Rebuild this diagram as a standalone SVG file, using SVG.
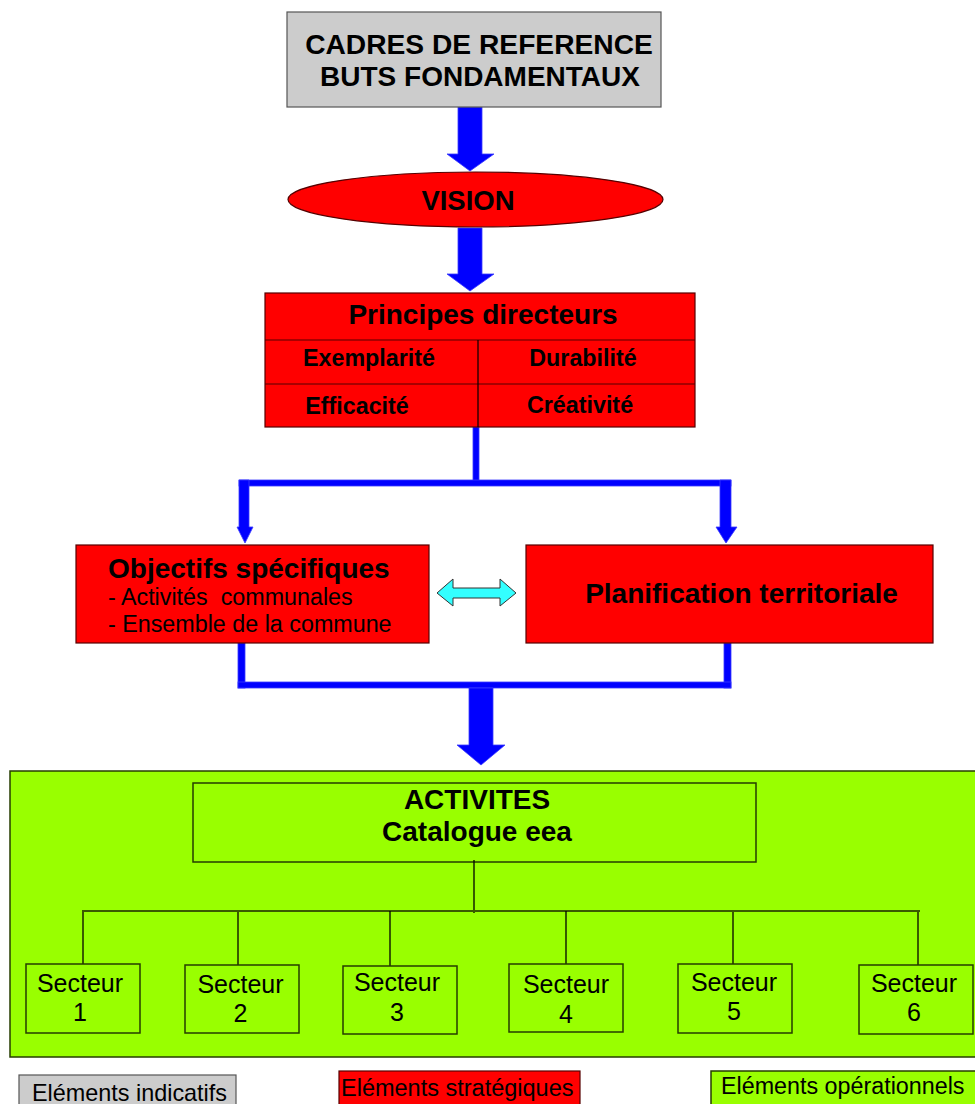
<svg xmlns="http://www.w3.org/2000/svg" width="975" height="1104" viewBox="0 0 975 1104">
<style>
text{font-family:"Liberation Sans",Arial,sans-serif;fill:#000}
.b{font-weight:bold}
.gray{fill:#cccccc;stroke:#555;stroke-width:1.2}
.red{fill:#ff0000;stroke:#500;stroke-width:1.2}
.green{fill:#99ff00;stroke:#263d00;stroke-width:1.5}
.blue{fill:#0000ff;stroke:#3a3aff;stroke-width:0.8}
.tree{stroke:#3a5a00;stroke-width:2;fill:none}
.stem{stroke:#000;stroke-width:1.3;fill:none}
.c{text-anchor:middle}
</style>

<g id="connectors">
  <polygon class="blue" points="458,107 482,107 482,154 494,154 470,171 447,154 458,154"/>
  <polygon class="blue" points="458,228 482,228 482,274 494,274 470,291 447,274 458,274"/>
  <rect class="blue" x="473" y="427" width="6" height="56" stroke="none"/>
  <rect class="blue" x="239" y="480" width="492" height="6" stroke="none"/>
  <polygon class="blue" points="239,480 249,480 249,527 253,527 245,543 237,527 239,527"/>
  <polygon class="blue" points="720,480 731,480 731,527 737,527 726,543 716,527 720,527"/>
  <rect class="blue" x="238" y="643" width="7" height="45" stroke="none"/>
  <rect class="blue" x="724" y="643" width="7" height="45" stroke="none"/>
  <rect class="blue" x="238" y="682" width="493" height="6" stroke="none"/>
  <polygon class="blue" points="469,688 493,688 493,745 505,745 481,765 457,745 469,745"/>
  <polygon fill="#33ffff" stroke="#333" stroke-width="1" points="437,593 453,579 453,588 500,588 500,579 516,593 500,606 500,598 453,598 453,606"/>
</g>

<g id="cadres">
  <rect class="gray" x="287" y="12" width="374" height="95"/>
  <text class="b c" x="479" y="54" font-size="28.2">CADRES DE REFERENCE</text>
  <text class="b c" x="480" y="86" font-size="28">BUTS FONDAMENTAUX</text>
</g>

<g id="vision">
  <ellipse class="red" cx="475.5" cy="199.5" rx="187.5" ry="27.5" stroke="#222"/>
  <text class="b c" x="468" y="210" font-size="27.5">VISION</text>
</g>

<g id="principes">
  <rect class="red" x="265" y="293" width="430" height="134"/>
  <line x1="265" y1="340" x2="695" y2="340" stroke="#500" stroke-width="1.2"/>
  <line x1="265" y1="384" x2="695" y2="384" stroke="#500" stroke-width="1.2"/>
  <line x1="478" y1="340" x2="478" y2="427" stroke="#000" stroke-width="1.2"/>
  <text class="b c" x="483" y="324" font-size="28">Principes directeurs</text>
  <text class="b c" x="369" y="366" font-size="23.3">Exemplarité</text>
  <text class="b c" x="583" y="366" font-size="23.3">Durabilité</text>
  <text class="b c" x="357" y="414" font-size="23.3">Efficacité</text>
  <text class="b c" x="580" y="413" font-size="23.3">Créativité</text>
</g>

<g id="objectifs">
  <rect class="red" x="76" y="545" width="353" height="98"/>
  <text class="b" x="108" y="578" font-size="28">Objectifs spécifiques</text>
  <text x="108" y="605" font-size="23.3" xml:space="preserve">- Activités  communales</text>
  <text x="108" y="632" font-size="23.3">- Ensemble de la commune</text>
</g>

<g id="planification">
  <rect class="red" x="526" y="545" width="407" height="98"/>
  <text class="b c" x="741.5" y="603" font-size="28">Planification territoriale</text>
</g>

<g id="operationnel">
  <rect class="green" x="10" y="771" width="970" height="286"/>
</g>

<g id="activites">
  <rect class="green" x="193" y="783" width="563" height="79" stroke="#333"/>
  <text class="b c" x="477" y="809" font-size="28">ACTIVITES</text>
  <text class="b c" x="477" y="841" font-size="28">Catalogue eea</text>
</g>

<g id="tree">
  <line class="stem" x1="474" y1="860" x2="474" y2="913"/>
  <line class="tree" x1="82" y1="911" x2="920" y2="911"/>
  <line class="tree" x1="83" y1="911" x2="83" y2="964" stroke-width="1.5"/>
  <line class="tree" x1="238" y1="911" x2="238" y2="965" stroke-width="1.5"/>
  <line class="stem" x1="390" y1="911" x2="390" y2="966"/>
  <line class="stem" x1="566" y1="911" x2="566" y2="964"/>
  <line class="tree" x1="733" y1="911" x2="733" y2="964" stroke-width="1.5"/>
  <line class="tree" x1="918" y1="911" x2="918" y2="965" stroke-width="1.5"/>
</g>

<g id="secteur1">
  <rect class="green" x="26" y="964" width="114" height="69" stroke="#1f3300"/>
  <text class="c" x="80" y="992" font-size="25">Secteur</text>
  <text class="c" x="80" y="1021" font-size="25">1</text>
</g>
<g id="secteur2">
  <rect class="green" x="185" y="965" width="114" height="68" stroke="#1f3300"/>
  <text class="c" x="240.5" y="993" font-size="25">Secteur</text>
  <text class="c" x="240.5" y="1022" font-size="25">2</text>
</g>
<g id="secteur3">
  <rect class="green" x="343" y="966" width="114" height="68" stroke="#1f3300"/>
  <text class="c" x="397" y="991" font-size="25">Secteur</text>
  <text class="c" x="397" y="1021" font-size="25">3</text>
</g>
<g id="secteur4">
  <rect class="green" x="509" y="964" width="114" height="68" stroke="#1f3300"/>
  <text class="c" x="566" y="993" font-size="25">Secteur</text>
  <text class="c" x="566" y="1023" font-size="25">4</text>
</g>
<g id="secteur5">
  <rect class="green" x="678" y="964" width="114" height="69" stroke="#1f3300"/>
  <text class="c" x="734" y="991" font-size="25">Secteur</text>
  <text class="c" x="734" y="1020" font-size="25">5</text>
</g>
<g id="secteur6">
  <rect class="green" x="859" y="965" width="114" height="69" stroke="#1f3300"/>
  <text class="c" x="914" y="992" font-size="25">Secteur</text>
  <text class="c" x="914" y="1021" font-size="25">6</text>
</g>

<g id="legende-indicatifs">
  <rect class="gray" x="19" y="1075" width="217" height="40"/>
  <text x="32" y="1101" font-size="23.4">Eléments indicatifs</text>
</g>
<g id="legende-strategiques">
  <rect class="red" x="339" y="1071" width="241" height="40" stroke="#333"/>
  <text x="341" y="1096" font-size="23.5">Eléments stratégiques</text>
</g>
<g id="legende-operationnels">
  <rect class="green" x="711" y="1071" width="270" height="40"/>
  <text x="721" y="1094" font-size="23.3">Eléments opérationnels</text>
</g>
</svg>
